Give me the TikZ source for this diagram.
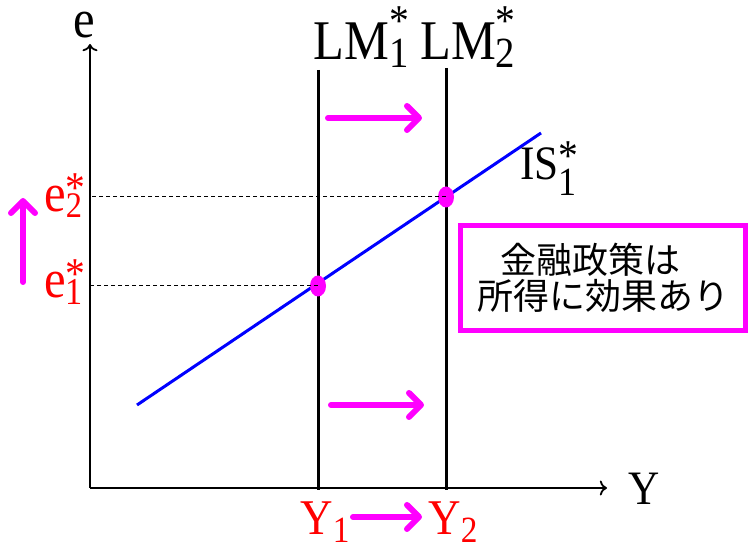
\documentclass[tikz,border=0pt]{standalone}
\usepackage{fontspec}
\setmainfont[FakeStretch=0.9]{Liberation Serif}
\newfontfamily\jpfont{Noto Sans CJK JP}
\usepackage{xcolor}
\usetikzlibrary{arrows.meta,positioning,shapes.geometric}
\definecolor{mag}{RGB}{255,0,255}
\definecolor{pure red}{RGB}{255,0,0}
\definecolor{pure blue}{RGB}{0,0,255}
% label with subscript and star: base, sub, sub size, sub drop, star raise
\newcommand{\lbl}[5]{#1\rlap{\raisebox{#4}{\fontsize{#3}{#3}\selectfont #2}}%
  \raisebox{#5}{\fontsize{22}{22}\selectfont *}}
% label with subscript only
\newcommand{\lbs}[4]{#1\raisebox{#4}{\fontsize{#3}{#3}\selectfont #2}}

\begin{document}
\begin{tikzpicture}[
  x=0.5pt, y=-0.5pt,
  >=To,
  every node/.style={inner sep=0pt},
  axis/.style={->, line width=0.9pt},
  curve/.style={line width=1.5pt},
  guide/.style={line width=0.5pt, dash pattern=on 2pt off 1.5pt},
  move/.style={mag, line width=3pt, line cap=round,
    -{Straight Barb[length=6pt, width=12pt, round]}},
  eqpt/.style={ellipse, fill=mag, minimum width=8pt, minimum height=10.5pt},
  redlab/.style={text=pure red},
  note/.style={draw=mag, line width=2.5pt, minimum width=142.5pt,
    minimum height=52.5pt, align=center,
    font=\jpfont\fontsize{18}{18}\selectfont},
]
\useasboundingbox (0,0) rectangle (751,544);

% axes
\coordinate (O) at (90,488);
\coordinate (etop) at (90,44);
\coordinate (Yend) at (607,488);
\draw[axis] (O) -- (etop);
\draw[axis] (O) -- (Yend);
\node[anchor=base west, font=\fontsize{27}{30}\selectfont] (elab) at (73,38) {e};
\node[anchor=base west, font=\fontsize{24}{28}\selectfont] (Ylab) at (628,505) {Y};

% LM curves
\coordinate (lm1top) at (318,70);
\coordinate (lm1bot) at (318,490);
\coordinate (lm2top) at (446,68);
\coordinate (lm2bot) at (446,490);
\draw[curve] (lm1top) -- (lm1bot);
\draw[curve] (lm2top) -- (lm2bot);
\node[anchor=base west, font=\fontsize{28}{32}\selectfont] (lm1lab) at (313,60)
  {\lbl{LM}{1}{21.5}{-4pt}{12pt}};
\node[anchor=base west, font=\fontsize{28}{32}\selectfont] (lm2lab) at (420,60)
  {\lbl{LM}{2}{21.5}{-4pt}{12pt}};

% IS curve
\coordinate (isa) at (137,405);
\coordinate (isb) at (541,133);
\draw[curve, pure blue] (isa) -- (isb);
\node[anchor=base west, font=\fontsize{24}{28}\selectfont] (islab) at (520,180)
  {\lbl{IS}{1}{20}{-8pt}{4.5pt}};

% equilibria
\node[eqpt] (E1) at (318,286) {};
\node[eqpt] (E2) at (446,197) {};
\draw[guide] (E1.center) -- (E1 -| O);
\draw[guide] (E2.center) -- (E2 -| O);
\node[redlab, anchor=base east, font=\fontsize{27}{30}\selectfont] (e1lab) at (86,298)
  {\lbl{e}{1}{19}{-3.5pt}{4.5pt}};
\node[redlab, anchor=base east, font=\fontsize{27}{30}\selectfont] (e2lab) at (86,212)
  {\lbl{e}{2}{18}{-3pt}{4.5pt}};
\node[redlab, anchor=base west, font=\fontsize{25}{28}\selectfont] (y1lab) at (300,535)
  {\lbs{Y}{1}{18.5}{-4pt}};
\node[redlab, anchor=base west, font=\fontsize{25}{28}\selectfont] (y2lab) at (428,535)
  {\lbs{Y}{2}{18.5}{-4pt}};

% shifts
\coordinate (up1) at (328,118);
\coordinate (up2) at (422,118);
\coordinate (mid1) at (331,405);
\coordinate (mid2) at (424,405);
\coordinate (low1) at (353,517);
\coordinate (low2) at (422,517);
\coordinate (ea) at (23,282);
\coordinate (eb) at (23,198);
\draw[move] (up1) -- (up2);
\draw[move] (mid1) -- (mid2);
\draw[move] (low1) -- (low2);
\draw[move] (ea) -- (eb);

% note
\node[note] (box) at (603,278) {金融政策は\hspace*{0.7em}\\所得に効果あり};
\end{tikzpicture}
\end{document}
